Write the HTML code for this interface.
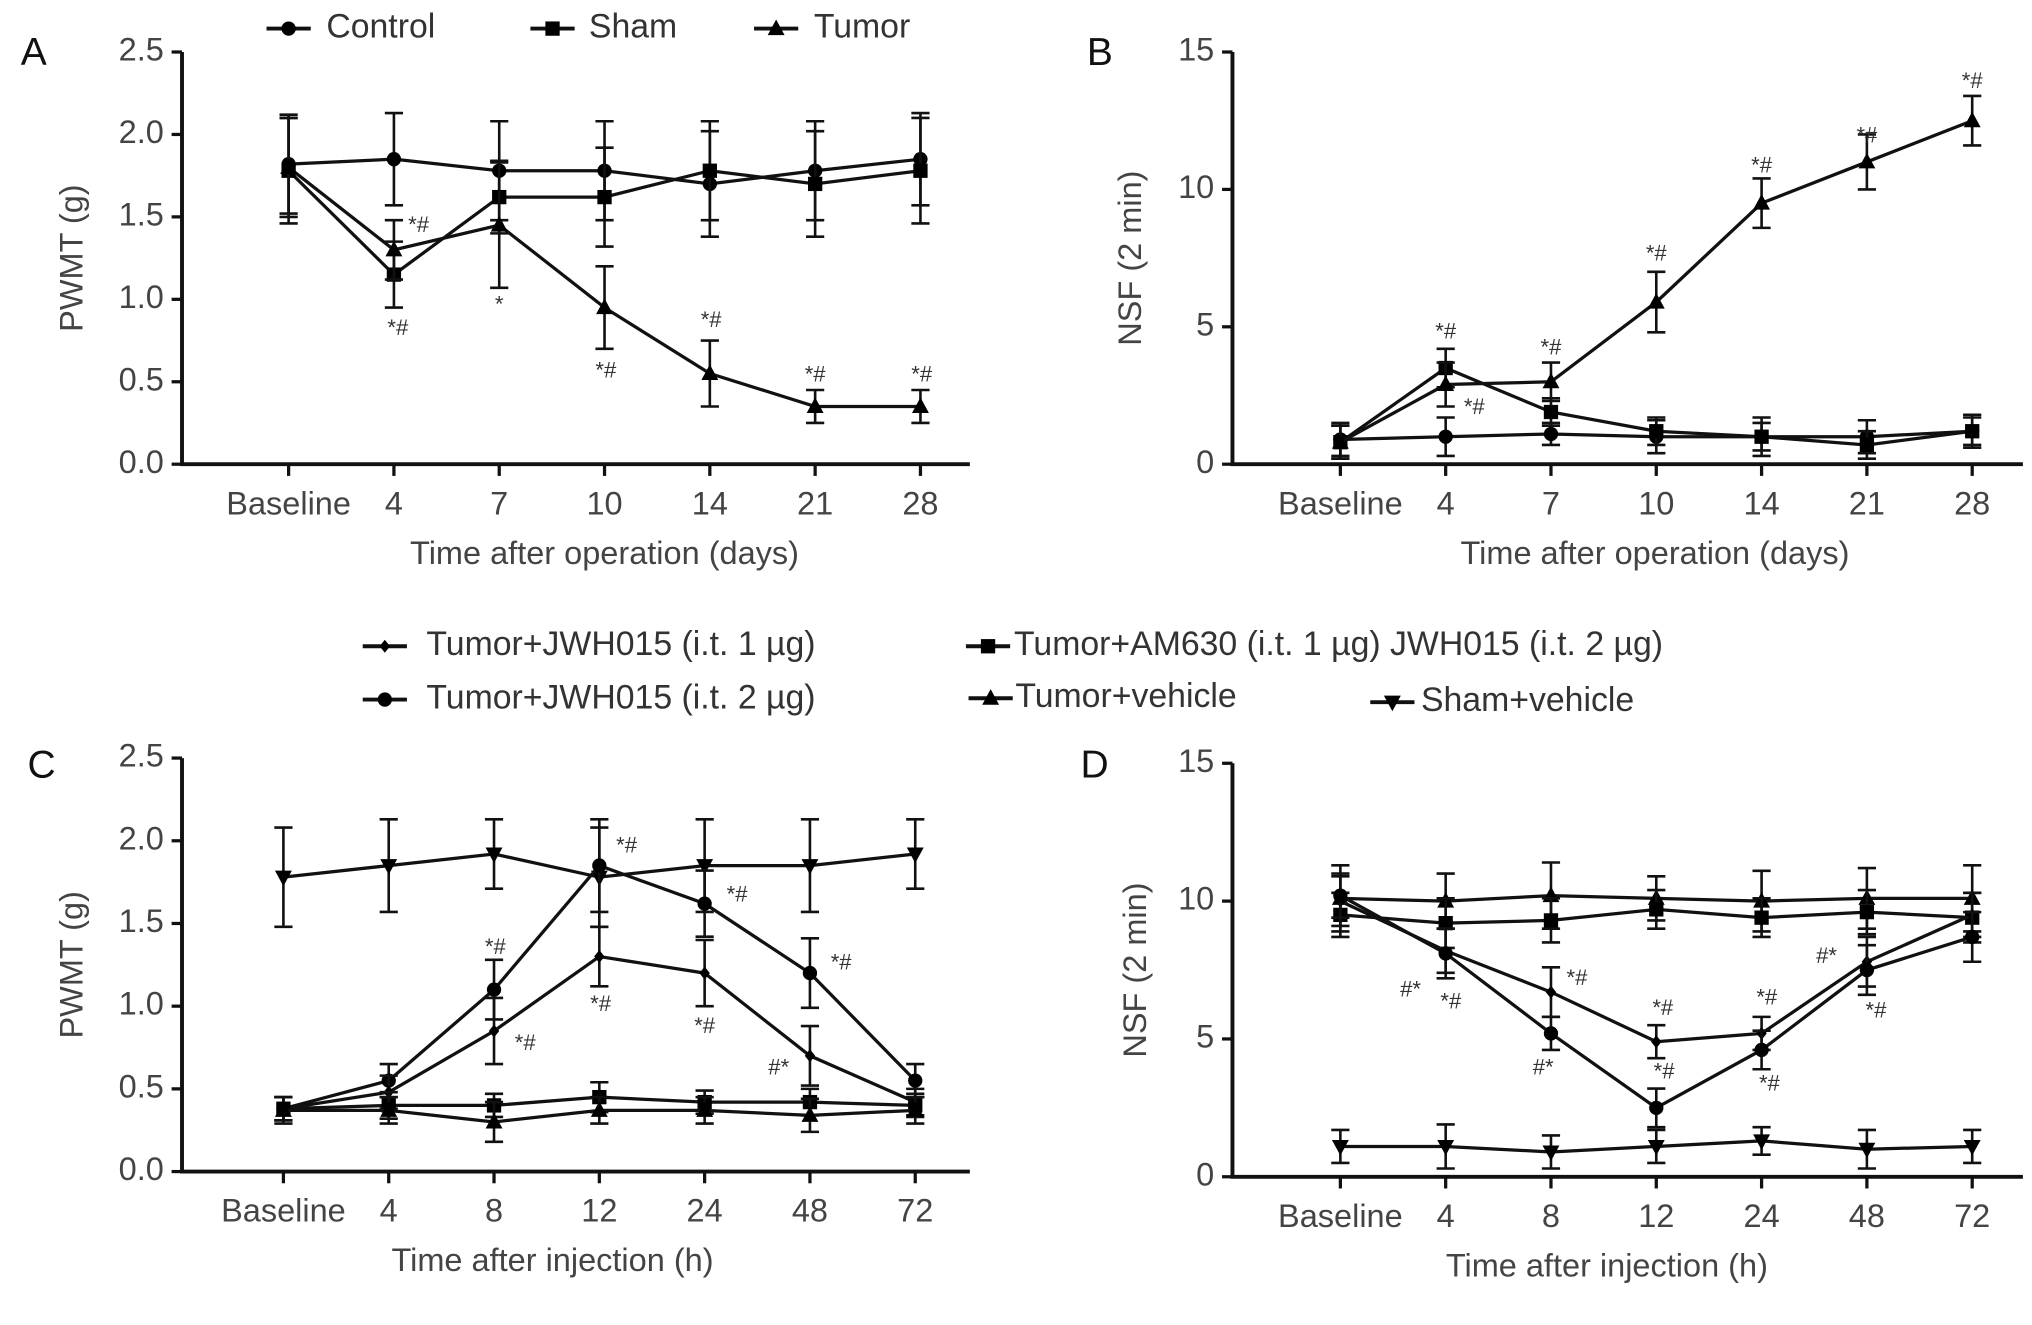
<!DOCTYPE html>
<html><head><meta charset="utf-8"><style>
html,body{margin:0;padding:0;background:#fff;}
svg{display:block;font-family:"Liberation Sans",sans-serif;}
</style></head><body>
<svg id="fig" width="2032" height="1325" viewBox="0 0 1563 1019" preserveAspectRatio="none" xmlns="http://www.w3.org/2000/svg">
<rect width="1563" height="1019" fill="#fff"/>
</svg>
<script>
// Panel A data
const catsA = ["Baseline","4","7","10","14","21","28"];
const aControl = [1.82,1.85,1.78,1.78,1.70,1.78,1.85];
const aControlErr = [0.30,0.28,0.30,0.30,0.32,0.30,0.28];
const aSham = [1.78,1.15,1.62,1.62,1.78,1.70,1.78];
const aShamErr = [0.32,0.20,0.22,0.30,0.30,0.32,0.32];
const aTumor = [1.80,1.30,1.45,0.95,0.55,0.35,0.35];
const aTumorErr = [0.30,0.18,0.38,0.25,0.20,0.10,0.10];
const ticksA = [0,0.5,1.0,1.5,2.0,2.5];
// Panel B data
const bControl = [0.9,1.0,1.1,1.0,1.0,1.0,1.2];
const bControlErr = [0.6,0.7,0.4,0.6,0.7,0.6,0.6];
const bSham = [0.8,3.5,1.9,1.2,1.0,0.7,1.2];
const bShamErr = [0.6,0.7,0.5,0.5,0.5,0.5,0.5];
const bTumor = [0.8,2.9,3.0,5.9,9.5,11.0,12.5];
const bTumorErr = [0.6,0.8,0.7,1.1,0.9,1.0,0.9];
const ticksB = [0,5,10,15];
// Panel C data
const catsC = ["Baseline","4","8","12","24","48","72"];
const cShamVeh = [1.78,1.85,1.92,1.78,1.85,1.85,1.92];
const cShamVehErr = [0.30,0.28,0.21,0.30,0.28,0.28,0.21];
const cJwh2 = [0.38,0.55,1.10,1.85,1.62,1.20,0.55];
const cJwh2Err = [0.07,0.10,0.18,0.28,0.20,0.21,0.10];
const cJwh1 = [0.38,0.48,0.85,1.30,1.20,0.70,0.42];
const cJwh1Err = [0.07,0.10,0.20,0.18,0.20,0.18,0.08];
const cAm630 = [0.38,0.40,0.40,0.45,0.42,0.42,0.40];
const cAm630Err = [0.07,0.08,0.07,0.09,0.07,0.08,0.07];
const cTumVeh = [0.37,0.37,0.30,0.37,0.37,0.34,0.37];
const cTumVehErr = [0.08,0.08,0.12,0.08,0.08,0.10,0.08];
// Panel D data
const dShamVeh = [1.1,1.1,0.9,1.1,1.3,1.0,1.1];
const dShamVehErr = [0.6,0.8,0.6,0.6,0.5,0.7,0.6];
const dTumVeh = [10.1,10.0,10.2,10.1,10.0,10.1,10.1];
const dTumVehErr = [1.2,1.0,1.2,0.8,1.1,1.1,1.2];
const dAm630 = [9.5,9.2,9.3,9.7,9.4,9.6,9.4];
const dAm630Err = [0.8,0.9,0.8,0.7,0.7,0.8,0.9];
const dJwh1 = [10.0,8.2,6.7,4.9,5.2,7.8,9.5];
const dJwh1Err = [0.9,0.8,0.9,0.6,0.6,0.9,0.8];
const dJwh2 = [10.2,8.1,5.2,2.5,4.6,7.5,8.7];
const dJwh2Err = [0.8,0.9,0.6,0.7,0.7,0.9,0.9];

const NS="http://www.w3.org/2000/svg";
const svg=document.getElementById('fig');
function el(tag,attrs,parent){const e=document.createElementNS(NS,tag);for(const k in attrs)e.setAttribute(k,attrs[k]);(parent||svg).appendChild(e);return e;}
function txt(x,y,s,size,anchor,fill,parent){const t=el('text',{x:x,y:y,'font-size':size,'text-anchor':anchor||'middle','dominant-baseline':'middle',fill:fill||'#333'},parent);t.textContent=s;return t;}
function marker(g,type,x,y){
  let m;
  if(type==='circle') m=el('circle',{cx:x,cy:y,r:5.5,fill:'#000'},g);
  else if(type==='square') m=el('rect',{x:x-5.5,y:y-5.5,width:11,height:11,fill:'#000'},g);
  else if(type==='tri') m=el('polygon',{points:`${x},${y-7} ${x-6.5},${y+5} ${x+6.5},${y+5}`,fill:'#000'},g);
  else if(type==='itri') m=el('polygon',{points:`${x},${y+7} ${x-6.5},${y-5} ${x+6.5},${y-5}`,fill:'#000'},g);
  else m=el('polygon',{points:`${x},${y-5} ${x+4},${y} ${x},${y+5} ${x-4},${y}`,fill:'#000'},g);
  return m;
}
function panel(p){
  const g=el('g',{});
  
  
  const yS=v=>p.y0+(v-p.vmin)/(p.vmax-p.vmin)*(p.y1-p.y0);
  const xS=i=>p.xc0+i*p.dx;
  const ax=el('path',{d:`M${p.ax},${p.y1} V${p.y0} H${p.axEnd}`,stroke:'#111','stroke-width':3,fill:'none'},g);
  
  
  p.ticks.forEach(t=>{
    const y=yS(t);
    el('line',{x1:p.ax-8,x2:p.ax,y1:y,y2:y,stroke:'#111','stroke-width':2.5},g);
    const l=txt(p.ax-14,y,p.tickFmt(t),25,'end','#444',g);
    
    
  });
  p.cats.forEach((c,i)=>{
    const x=xS(i);
    el('line',{x1:x,x2:x,y1:p.y0,y2:p.y0+9,stroke:'#111','stroke-width':2.5},g);
    const l=txt(x,p.y0+32,c,25,'middle','#444',g);
    
    
  });
  const xt=txt(p.xTitleX,p.y0+70,p.xTitle,25,'middle','#444',g);
  
  
  const yt=el('text',{x:0,y:0,'font-size':25,'text-anchor':'middle','dominant-baseline':'middle',fill:'#444',transform:`translate(${p.yTitleX},${(p.y0+p.y1)/2}) rotate(-90)`},g);
  yt.textContent=p.yTitle;
  
  
  const lt=txt(p.letterX,p.letterY,p.letter,30,'middle','#111',g);
  
  
  p.series.forEach(s=>{
    const sg=el('g',{},g);
    
    
    s.vals.forEach((v,i)=>{
      const x=xS(i),a=yS(v-s.err[i]),b=yS(v+s.err[i]);
      el('path',{d:`M${x},${a}V${b}M${x-7},${a}H${x+7}M${x-7},${b}H${x+7}`,stroke:'#111','stroke-width':2,fill:'none'},sg);
    });
    el('polyline',{points:s.vals.map((v,i)=>xS(i)+','+yS(v)).join(' '),stroke:'#111','stroke-width':2.5,fill:'none'},sg);
    s.vals.forEach((v,i)=>marker(sg,s.m,xS(i),yS(v)));
  });
  p.notes.forEach(n=>{
    const t=txt(n[0],n[1],n[2],17,'middle','#333',g);
    
    
  });
}
const f1=t=>t.toFixed(1), f0=t=>String(t);
panel({name:'panel-a',letter:'A',letterX:26,letterY:42,ax:140,axEnd:746,y0:357,y1:40,vmin:0,vmax:2.5,xc0:222,dx:81,cats:catsA,ticks:ticksA,tickFmt:f1,
  xTitle:'Time after operation (days)',xTitleX:465,yTitle:'PWMT (g)',yTitleX:57,
  series:[{name:'control-series',m:'circle',vals:aControl,err:aControlErr},{name:'sham-series',m:'square',vals:aSham,err:aShamErr},{name:'tumor-series',m:'tri',vals:aTumor,err:aTumorErr}],
  notes:[[322,174,'*#'],[306,253,'*#'],[384,235,'*'],[466,286,'*#'],[547,247,'*#'],[627,289,'*#'],[709,289,'*#']]});
panel({name:'panel-b',letter:'B',letterX:846,letterY:42,ax:948,axEnd:1556,y0:357,y1:40,vmin:0,vmax:15,xc0:1031,dx:81,cats:catsA,ticks:ticksB,tickFmt:f0,
  xTitle:'Time after operation (days)',xTitleX:1273,yTitle:'NSF (2 min)',yTitleX:871,
  series:[{name:'control-series',m:'circle',vals:bControl,err:bControlErr},{name:'sham-series',m:'square',vals:bSham,err:bShamErr},{name:'tumor-series',m:'tri',vals:bTumor,err:bTumorErr}],
  notes:[[1112,256,'*#'],[1134,314,'*#'],[1193,268,'*#'],[1274,196,'*#'],[1355,128,'*#'],[1436,105,'*#'],[1517,63,'*#']]});
panel({name:'panel-c',letter:'C',letterX:32,letterY:590,ax:140,axEnd:746,y0:901,y1:583,vmin:0,vmax:2.5,xc0:218,dx:81,cats:catsC,ticks:ticksA,tickFmt:f1,
  xTitle:'Time after injection (h)',xTitleX:425,yTitle:'PWMT (g)',yTitleX:57,
  series:[{name:'sham-vehicle-series',m:'itri',vals:cShamVeh,err:cShamVehErr},{name:'jwh015-2ug-series',m:'circle',vals:cJwh2,err:cJwh2Err},{name:'jwh015-1ug-series',m:'diamond',vals:cJwh1,err:cJwh1Err},{name:'am630-series',m:'square',vals:cAm630,err:cAm630Err},{name:'tumor-vehicle-series',m:'tri',vals:cTumVeh,err:cTumVehErr}],
  notes:[[381,729,'*#'],[404,803,'*#'],[462,773,'*#'],[482,651,'*#'],[542,790,'*#'],[567,689,'*#'],[599,822,'#*'],[647,741,'*#']]});
panel({name:'panel-d',letter:'D',letterX:842,letterY:590,ax:948,axEnd:1556,y0:905,y1:587,vmin:0,vmax:15,xc0:1031,dx:81,cats:catsC,ticks:ticksB,tickFmt:f0,
  xTitle:'Time after injection (h)',xTitleX:1236,yTitle:'NSF (2 min)',yTitleX:875,
  series:[{name:'sham-vehicle-series',m:'itri',vals:dShamVeh,err:dShamVehErr},{name:'tumor-vehicle-series',m:'tri',vals:dTumVeh,err:dTumVehErr},{name:'am630-series',m:'square',vals:dAm630,err:dAm630Err},{name:'jwh015-1ug-series',m:'diamond',vals:dJwh1,err:dJwh1Err},{name:'jwh015-2ug-series',m:'circle',vals:dJwh2,err:dJwh2Err}],
  notes:[[1085,762,'#*'],[1116,771,'*#'],[1213,753,'*#'],[1187,822,'#*'],[1279,776,'*#'],[1280,825,'*#'],[1359,768,'*#'],[1361,834,'*#'],[1405,736,'#*'],[1443,778,'*#']]});

// legends
function legend(x,y,m,label,tx,name){
  const g=el('g',{});
  
  
  el('line',{x1:x-17,x2:x+17,y1:y,y2:y,stroke:'#111','stroke-width':3},g);
  marker(g,m,x,y);
  txt(tx,y,label,26,'start','#333',g);
}
legend(222,22,'circle','Control',251,'legend-control');
legend(425,22,'square','Sham',453,'legend-sham');
legend(597,22,'tri','Tumor',626,'legend-tumor');
legend(296,497,'diamond','Tumor+JWH015 (i.t. 1 µg)',328,'legend-jwh015-1ug');
legend(760,497,'square','Tumor+AM630 (i.t. 1 µg) JWH015 (i.t. 2 µg)',780,'legend-am630');
legend(296,538,'circle','Tumor+JWH015 (i.t. 2 µg)',328,'legend-jwh015-2ug');
legend(762,537,'tri','Tumor+vehicle',781,'legend-tumor-vehicle');
legend(1071,540,'itri','Sham+vehicle',1093,'legend-sham-vehicle');
</script>
</body></html>
